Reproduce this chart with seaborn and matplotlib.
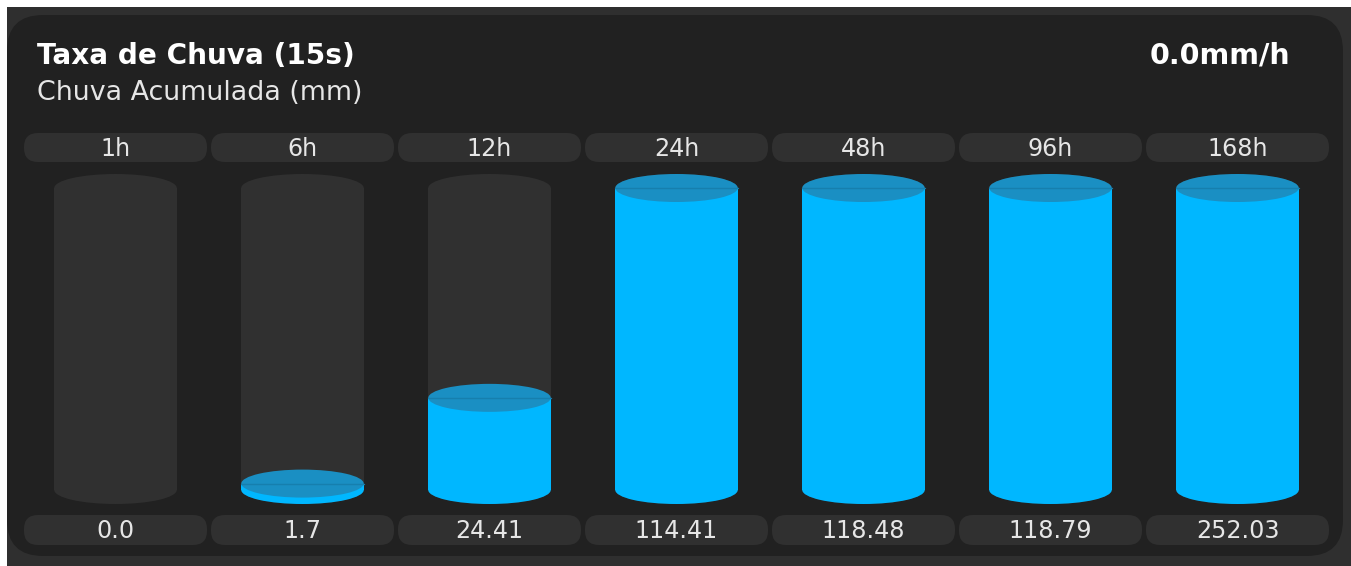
"""Rain accumulation card: cylinder gauges per period"""

import matplotlib
matplotlib.use("Agg")
import matplotlib.pyplot as plt
from matplotlib.patches import Ellipse, FancyBboxPatch, Rectangle
import numpy as np
import seaborn as sns

sns.set_style("dark")
plt.rcParams["font.family"] = ["DejaVu Sans"]

# data
PERIODS = ["1h", "6h", "12h", "24h", "48h", "96h", "168h"]
RAIN_MM = [0.0, 1.7, 24.41, 114.41, 118.48, 118.79, 252.03]
FILL_MAX = 80.0          # level at which a cylinder is drawn full
CURRENT_RATE = 0.0       # mm/h
TITLE = "Taxa de Chuva (15s)"
SUBTITLE = "Chuva Acumulada (mm)"

# colours
WHITE_EDGE = "#ffffff"
FRAME_BG = "#2f2f2f"
CARD_BG = "#212121"
TUBE_BG = "#303030"
PILL_BG = "#303030"
WATER = "#00b7ff"
WATER_TOP = "#1a8fc3"
WATER_LINE = "#167fae"
TEXT = "#e6e6e6"

W_PX, H_PX = 1351, 566
SLOT_PX = 187.0
LEFT_PX = 22.0
BASE_PX = 490.0                       # pixel row of the zero level
PX_PER_UNIT = 302.0 / FILL_MAX        # vertical pixels per mm
TUBE_W = 0.655
ELL_H = 28.0 / PX_PER_UNIT


def ypx(p):
    """pixel row (from top) -> data y"""
    return (BASE_PX - p) / PX_PER_UNIT


fig = plt.figure(figsize=(W_PX / 100, H_PX / 100), dpi=100, facecolor=WHITE_EDGE)

# frame / card in pixel space
bg = fig.add_axes([0, 0, 1, 1])
bg.set_xlim(0, W_PX)
bg.set_ylim(H_PX, 0)
bg.axis("off")
bg.add_patch(Rectangle((7, 7), W_PX, H_PX, color=FRAME_BG, lw=0))
bg.add_patch(FancyBboxPatch((7, 15), 1336, 541,
                            boxstyle="round,pad=0,rounding_size=36",
                            fc=CARD_BG, ec="none"))
bg.text(37, 64, TITLE, color="white", fontsize=20.1, fontweight="bold", va="baseline")
bg.text(37, 100, SUBTITLE, color=TEXT, fontsize=19.4, va="baseline")
bg.text(1290, 64, f"{CURRENT_RATE:.1f}mm/h", color="white", fontsize=20.5,
        fontweight="bold", va="baseline", ha="right")

# gauges in data space
ax = fig.add_axes([0, 0, 1, 1])
ax.patch.set_alpha(0)

fill = np.minimum(RAIN_MM, FILL_MAX)
sns.barplot(x=PERIODS, y=[FILL_MAX] * len(PERIODS), color=TUBE_BG, saturation=1,
            width=TUBE_W, linewidth=0, zorder=1, ax=ax)
sns.barplot(x=PERIODS, y=fill, color=WATER, saturation=1,
            width=TUBE_W, linewidth=0, zorder=2, ax=ax)

aspect = SLOT_PX / PX_PER_UNIT
for i, (v, f) in enumerate(zip(RAIN_MM, fill)):
    ax.add_patch(Ellipse((i, 0), TUBE_W, ELL_H, color=TUBE_BG, lw=0, zorder=1.5))
    ax.add_patch(Ellipse((i, FILL_MAX), TUBE_W, ELL_H, color=TUBE_BG, lw=0, zorder=1.5))
    if v > 0:
        ax.add_patch(Ellipse((i, 0), TUBE_W, ELL_H, color=WATER, lw=0, zorder=2.5))
        ax.add_patch(Ellipse((i, f), TUBE_W, ELL_H, color=WATER_TOP, lw=0, zorder=2.6))
        ax.plot([i - TUBE_W / 2, i + TUBE_W / 2], [f, f], color=WATER_LINE,
                lw=1, zorder=2.7)

    # period pill and value pill
    for top, bot, base, label in ((133, 162, 156, PERIODS[i]), (515, 545, 538, f"{v}")):
        pw = 183 / SLOT_PX
        ax.add_patch(FancyBboxPatch((i - pw / 2, ypx(bot)), pw, ypx(top) - ypx(bot),
                                    boxstyle=f"round,pad=0,rounding_size={14 / SLOT_PX}",
                                    mutation_aspect=aspect, fc=PILL_BG, ec="none",
                                    zorder=1))
        ax.text(i, ypx(base), label, color=TEXT, fontsize=17.2,
                ha="center", va="baseline", zorder=3)

ax.set_xlim(-0.5 - LEFT_PX / SLOT_PX, -0.5 + (W_PX - LEFT_PX) / SLOT_PX)
ax.set_ylim(ypx(H_PX), ypx(0))
ax.axis("off")

fig.savefig("out.png", dpi=100, facecolor=WHITE_EDGE)
plt.close(fig)
